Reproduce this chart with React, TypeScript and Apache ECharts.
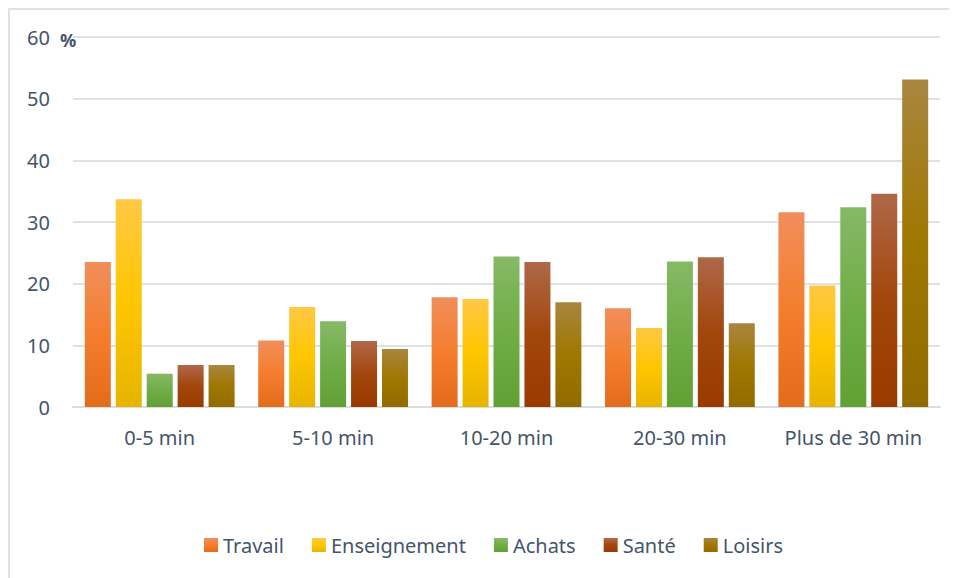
import React, { useEffect, useRef } from "react";
import * as echarts from "echarts";

const categories = ["0-5 min", "5-10 min", "10-20 min", "20-30 min", "Plus de 30 min"];
const seriesNames = ["Travail", "Enseignement", "Achats", "Santé", "Loisirs"];

const travail = [23.5, 10.8, 17.8, 16.0, 31.6];
const enseignement = [33.7, 16.2, 17.5, 12.8, 19.7];
const achats = [5.4, 13.9, 24.4, 23.6, 32.4];
const sante = [6.8, 10.7, 23.5, 24.3, 34.6];
const loisirs = [6.8, 9.4, 17.0, 13.6, 53.1];

const yTicks = [0, 10, 20, 30, 40, 50, 60];

const seriesValues = [travail, enseignement, achats, sante, loisirs];

// top / middle / bottom stops of each bar's vertical gradient
const palettes = [
  ["#F18E5C", "#F47E2E", "#E36C1B"],
  ["#FFC843", "#FFC600", "#E6B400"],
  ["#86B966", "#70AD47", "#62A034"],
  ["#AF6849", "#A3460C", "#993B00"],
  ["#A8863F", "#A07700", "#926B00"],
];

const TEXT = "#44546A";
const FONT = "'Noto Sans', 'Open Sans', sans-serif";

export default function App() {
  const ref = useRef<HTMLDivElement>(null);

  useEffect(() => {
    if (!ref.current) return;
    const chart = echarts.init(ref.current, null, { renderer: "svg" });

    const series = seriesNames.map((name, i) => ({
      name,
      type: "bar" as const,
      data: seriesValues[i],
      barWidth: 26,
      barGap: "19%",
      itemStyle: {
        color: new echarts.graphic.LinearGradient(0, 0, 0, 1, [
          { offset: 0, color: palettes[i][0] },
          { offset: 0.5, color: palettes[i][1] },
          { offset: 1, color: palettes[i][2] },
        ]),
      },
    }));

    chart.setOption({
      animation: false,
      backgroundColor: "#ffffff",
      textStyle: { fontFamily: FONT },
      grid: { left: 63, right: 17, top: 27, height: 370 },
      legend: {
        data: seriesNames,
        left: 189,
        top: 520,
        icon: "rect",
        itemWidth: 14,
        itemHeight: 14,
        itemGap: 28,
        textStyle: { color: TEXT, fontSize: 20, fontFamily: FONT },
      },
      xAxis: {
        type: "category",
        data: categories,
        axisTick: { show: false },
        axisLine: { lineStyle: { color: "#D9DDE3", width: 2 } },
        axisLabel: { color: TEXT, fontSize: 20, margin: 20, interval: 0, fontFamily: FONT },
      },
      yAxis: {
        type: "value",
        min: yTicks[0],
        max: yTicks[yTicks.length - 1],
        interval: yTicks[1] - yTicks[0],
        axisLine: { show: false },
        axisTick: { show: false },
        splitLine: { lineStyle: { color: "#DEE2E7", width: 2 } },
        axisLabel: { color: TEXT, fontSize: 20, margin: 23, fontFamily: FONT },
      },
      graphic: [
        {
          type: "text",
          left: 50,
          top: 21,
          style: {
            text: "%",
            fill: TEXT,
            font: `bold 18px ${FONT}`,
          },
        },
      ],
      series,
    });

    return () => chart.dispose();
  }, []);

  return (
    <div
      style={{
        borderLeft: "2px solid #DEE2E7",
        borderTop: "2px solid #DEE2E7",
        width: 947,
        height: 568,
      }}
    >
      <div ref={ref} style={{ width: 947, height: 568 }} />
    </div>
  );
}
